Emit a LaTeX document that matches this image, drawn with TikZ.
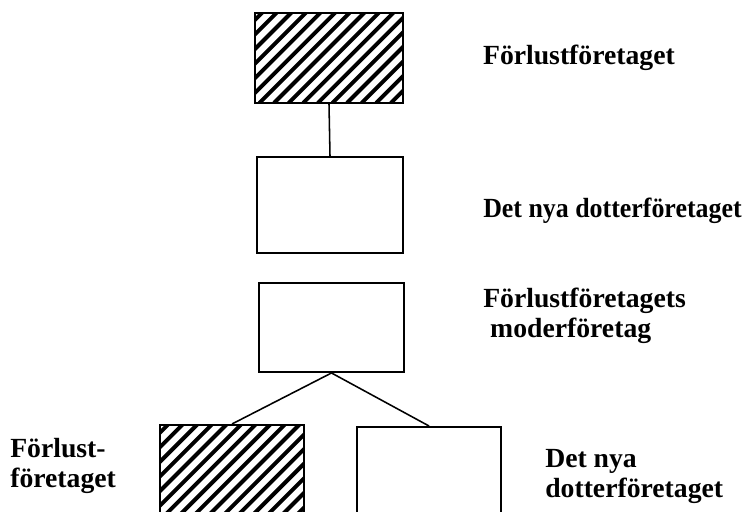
\documentclass[tikz,border=0pt]{standalone}
\usepackage{fontspec}
\setmainfont{Liberation Serif}
\newfontfamily\narrowfont[FakeStretch=0.935]{Liberation Serif}
\tikzset{
  firm/.style={draw, line width=1.4pt, inner sep=0pt, minimum width=3.65cm, minimum height=2.3cm},
  lossfirm/.style={firm, path picture={
      \foreach \k in {0,...,30}
        \draw[line width=2.8pt] ([xshift=\k*0.365cm-5cm]path picture bounding box.south west) -- ++(5,5);
    }},
  link/.style={line width=1.1pt},
  lbl/.style={font=\fontsize{19.7}{21.8}\selectfont\bfseries, align=left, inner sep=0pt, anchor=base west}
}
\begin{document}
\begin{tikzpicture}
\useasboundingbox (0,0) rectangle (18.725,12.8);
\clip (0,0) rectangle (18.725,12.8);
% upper group
\node [lossfirm, minimum width=3.7cm, minimum height=2.25cm] (loss) at (8.225,11.35) {};
\node [firm, minimum height=2.4cm] (newsub) at (8.25,7.675) {};
\draw [link] (loss.south) -- (newsub.north);
\node [lbl] (lossL) at (12.07,11.175) {Förlustföretaget};
\node [lbl, font=\narrowfont\fontsize{19.7}{21.8}\selectfont\bfseries] (newsubL) at (12.075,7.35) {Det nya dotterföretaget};
% lower group
\node [firm, minimum width=3.625cm, minimum height=2.225cm] (parent) at (8.2875,4.6125) {};
\node [lossfirm, minimum width=3.6cm, minimum height=3cm, anchor=north] (lossB) at (5.8,2.2) {};
\node [firm, minimum width=3.6cm, minimum height=3cm, anchor=north] (newsubB) at (10.725,2.15) {};
\draw [link] (parent.south) -- (lossB.north);
\draw [link] (parent.south) -- (newsubB.north);
% multi-line labels: base is the last line
\node [lbl] (parentL) at (12.075,4.35) {Förlustföretagets\\\ moderföretag};
\node [lbl] (lossBL) at (0.25,0.6) {Förlust-\\företaget};
\node [lbl] (newsubBL) at (13.625,0.35) {Det nya\\dotterföretaget};
\end{tikzpicture}
\end{document}
